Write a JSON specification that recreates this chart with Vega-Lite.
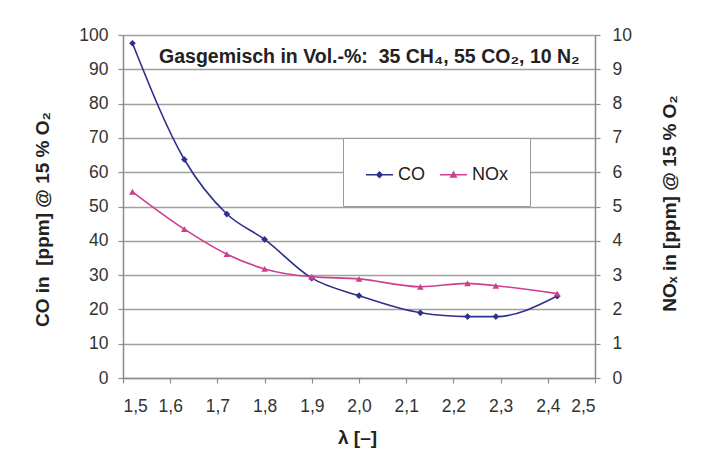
{
  "$schema": "https://vega.github.io/schema/vega-lite/v6.json",
  "width": 472,
  "height": 343,
  "autosize": {"type": "none"},
  "padding": {"left": 123, "top": 35, "right": 109, "bottom": 86},
  "background": "white",
  "config": {
    "view": {"stroke": null},
    "font": "Liberation Sans",
    "axis": {
      "labelFont": "Liberation Sans",
      "labelFontSize": 17.5,
      "labelColor": "#333333",
      "titleFont": "Liberation Sans",
      "titleFontWeight": "bold",
      "titleFontSize": 19,
      "titleColor": "#222222",
      "domainColor": "#8c8c8c",
      "domainWidth": 1.5,
      "tickColor": "#8c8c8c",
      "tickSize": 5,
      "tickWidth": 1.2
    }
  },
  "data": {
    "values": [
      {"lambda": 1.52, "series": "CO", "value": 97.6},
      {"lambda": 1.63, "series": "CO", "value": 63.7},
      {"lambda": 1.72, "series": "CO", "value": 47.8},
      {"lambda": 1.80, "series": "CO", "value": 40.4},
      {"lambda": 1.90, "series": "CO", "value": 29.1},
      {"lambda": 2.00, "series": "CO", "value": 24.0},
      {"lambda": 2.13, "series": "CO", "value": 19.0},
      {"lambda": 2.23, "series": "CO", "value": 17.9},
      {"lambda": 2.29, "series": "CO", "value": 17.9},
      {"lambda": 2.42, "series": "CO", "value": 23.9},
      {"lambda": 1.52, "series": "NOx", "value": 5.43},
      {"lambda": 1.63, "series": "NOx", "value": 4.34},
      {"lambda": 1.72, "series": "NOx", "value": 3.61},
      {"lambda": 1.80, "series": "NOx", "value": 3.18},
      {"lambda": 1.90, "series": "NOx", "value": 2.95},
      {"lambda": 2.00, "series": "NOx", "value": 2.89},
      {"lambda": 2.13, "series": "NOx", "value": 2.66},
      {"lambda": 2.23, "series": "NOx", "value": 2.76},
      {"lambda": 2.29, "series": "NOx", "value": 2.69},
      {"lambda": 2.42, "series": "NOx", "value": 2.46}
    ]
  },
  "encoding": {
    "x": {
      "field": "lambda",
      "type": "quantitative",
      "scale": {"domain": [1.5, 2.5], "nice": false, "zero": false},
      "axis": {
        "values": [1.5, 1.6, 1.7, 1.8, 1.9, 2.0, 2.1, 2.2, 2.3, 2.4, 2.5],
        "labelExpr": "replace(format(datum.value, '.1f'), '.', ',')",
        "grid": false,
        "labelPadding": 14,
        "title": "λ [–]",
        "titleX": 234,
        "titleY": 59,
        "titleBaseline": "middle",
        "titleAlign": "center"
      }
    }
  },
  "layer": [
    {
      "encoding": {
        "y": {
          "field": "value",
          "type": "quantitative",
          "scale": {"domain": [0, 100], "nice": false},
          "axis": {
            "orient": "left",
            "values": [0, 10, 20, 30, 40, 50, 60, 70, 80, 90, 100],
            "grid": true,
            "gridColor": "#a0a0a0",
            "gridWidth": 1.6,
            "labelPadding": 10,
            "title": "CO in\u00a0 [ppm] @ 15 % O₂",
            "titleAngle": 270,
            "titleX": -81,
            "titleY": 184,
            "titleAlign": "center",
            "titleBaseline": "middle"
          }
        }
      },
      "layer": [
        {
          "transform": [{"filter": "datum.series === 'CO'"}],
          "mark": {"type": "line", "interpolate": "monotone", "strokeWidth": 1.6},
          "encoding": {
            "color": {
              "field": "series",
              "type": "nominal",
              "scale": {"domain": ["CO", "NOx"], "range": ["#2f2f8c", "#cc3f90"]},
              "legend": {
                "orient": "none",
                "legendX": 220,
                "legendY": 103,
                "direction": "horizontal",
                "title": null,
                "padding": 22,
                "strokeColor": "#9a9a9a",
                "fillColor": "white",
                "labelFont": "Liberation Sans",
                "labelFontSize": 18,
                "labelColor": "#222222",
                "labelOffset": 4,
                "columnPadding": 12,
                "symbolSize": 729,
                "encode": {
                  "symbols": {
                    "update": {
                      "shape": {"signal": "datum.value === 'CO' ? 'M-1,0H1M-0.2,0L0,-0.2L0.2,0L0,0.2Z' : 'M-1,0H1M-0.2,0.16L0,-0.2L0.2,0.16Z'"},
                      "strokeWidth": {"value": 1.5},
                      "fill": {"scale": "color", "field": "value"},
                      "stroke": {"scale": "color", "field": "value"},
                      "fillOpacity": {"value": 1},
                      "opacity": {"value": 1}
                    }
                  }
                }
              }
            }
          }
        },
        {
          "transform": [{"filter": "datum.series === 'CO'"}],
          "mark": {"type": "point", "shape": "diamond", "filled": true, "size": 45, "opacity": 1},
          "encoding": {"color": {"field": "series", "type": "nominal"}}
        },
        {
          "transform": [{"filter": "datum.series === 'CO' && datum.lambda < 1.55"}],
          "mark": {"type": "text", "font": "Liberation Sans", "fontWeight": "bold", "fontSize": 19.5, "fill": "#222222", "align": "center", "baseline": "middle", "text": "Gasgemisch in Vol.-%:\u00a0 35 CH₄, 55 CO₂, 10 N₂"},
          "encoding": {
            "x": {"datum": 2.022},
            "y": {"datum": 93.6}
          }
        }
      ]
    },
    {
      "transform": [{"filter": "datum.series === 'NOx'"}],
      "encoding": {
        "y": {
          "field": "value",
          "type": "quantitative",
          "scale": {"domain": [0, 10], "nice": false},
          "axis": {
            "orient": "right",
            "values": [0, 1, 2, 3, 4, 5, 6, 7, 8, 9, 10],
            "grid": false,
            "labelPadding": 12,
            "title": "NOₓ in [ppm] @ 15 % O₂",
            "titleAngle": 270,
            "titleX": 74,
            "titleY": 168,
            "titleAlign": "center",
            "titleBaseline": "middle"
          }
        },
        "color": {"field": "series", "type": "nominal"}
      },
      "layer": [
        {"mark": {"type": "line", "interpolate": "monotone", "strokeWidth": 1.6}},
        {"mark": {"type": "point", "shape": "triangle-up", "filled": true, "size": 45, "opacity": 1}}
      ]
    }
  ],
  "resolve": {"scale": {"y": "independent"}}
}
